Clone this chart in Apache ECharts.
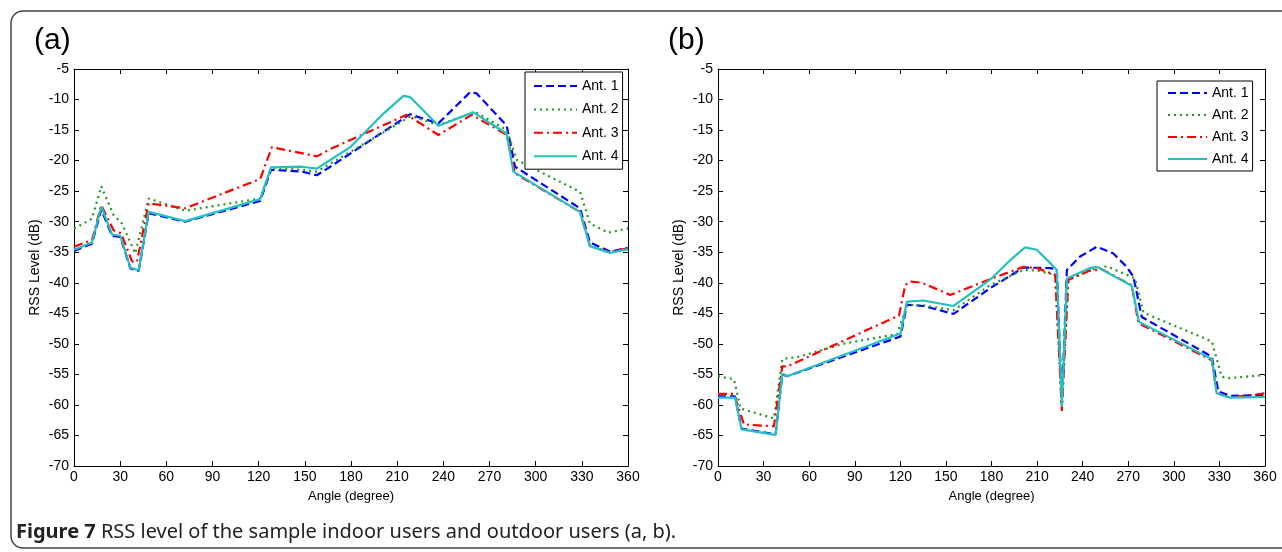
<!DOCTYPE html>
<html>
<head>
<meta charset="utf-8">
<script src="https://cdn.jsdelivr.net/npm/echarts@6.0.0/dist/echarts.min.js"></script>
<style>
html, body { margin: 0; padding: 0; background: #fff; }
#chart { width: 1282px; height: 552px; }
</style>
</head>
<body>
<div id="chart"></div>
<script>
// series names
const antNames = ['Ant. 1', 'Ant. 2', 'Ant. 3', 'Ant. 4'];

// (a) indoor users: [angle (deg), RSS (dB)]
const indoorAnt1 = [[0,-34.8],[11.7,-33.6],[17.7,-28.0],[24.7,-32.3],[30.1,-32.5],[36.6,-37.6],[42.0,-38.1],[48.5,-28.6],[72.3,-30.0],[121.0,-26.6],[128.0,-21.5],[148.1,-21.8],[157.8,-22.4],[166.5,-21.0],[218.4,-12.4],[221.7,-12.7],[236.8,-13.9],[257.4,-8.8],[261.7,-9.0],[281.2,-14.3],[286.6,-21.0],[328.8,-27.8],[335.3,-33.4],[348.3,-34.9],[360,-34.3]];
const indoorAnt2 = [[0,-31.1],[6.2,-30.3],[11.7,-29.5],[17.7,-24.2],[25.7,-28.9],[31.2,-30.3],[39.8,-35.2],[48.5,-26.2],[72.3,-28.2],[121.0,-26.2],[128.0,-21.2],[148.1,-21.5],[157.8,-21.8],[218.4,-12.8],[221.7,-12.9],[236.8,-14.2],[260.6,-12.0],[281.2,-15.0],[287.7,-19.9],[328.8,-25.1],[335.3,-30.3],[347.2,-31.8],[360,-31.1]];
const indoorAnt3 = [[0,-34.1],[11.7,-33.0],[17.7,-27.3],[25.7,-31.4],[30.6,-31.9],[37.7,-36.5],[40.9,-36.6],[48.5,-27.0],[72.3,-27.8],[121.0,-23.0],[128.6,-17.8],[157.8,-19.3],[166.5,-18.1],[216.3,-12.5],[236.8,-15.8],[258.5,-12.5],[281.2,-15.8],[286.6,-22.1],[328.8,-28.4],[335.3,-34.0],[348.3,-35.0],[360,-34.3]];
const indoorAnt4 = [[0,-34.6],[11.7,-33.4],[17.7,-27.5],[24.7,-32.1],[30.1,-32.3],[36.6,-37.5],[42.0,-38.0],[48.5,-28.4],[72.3,-29.9],[121.0,-26.3],[128.0,-21.1],[148.1,-21.0],[157.8,-21.3],[166.5,-19.9],[179.5,-17.8],[201.1,-12.3],[214.1,-9.4],[218.4,-9.6],[236.8,-14.3],[259.5,-12.1],[281.2,-15.6],[285.5,-21.8],[328.8,-28.4],[335.3,-34.0],[348.3,-35.1],[360,-34.5]];

// (b) outdoor users
const outdoorAnt1 = [[0,-58.6],[11.2,-58.6],[15.5,-63.9],[37.9,-64.8],[42.3,-55.0],[45.6,-55.3],[120.1,-48.8],[124.3,-43.6],[135.2,-43.8],[155.0,-45.1],[179.1,-40.9],[201.0,-37.5],[218.6,-37.6],[223.0,-37.8],[226.3,-60.0],[229.6,-37.9],[238.3,-35.7],[249.3,-34.1],[260.2,-35.2],[269.0,-37.4],[273.4,-39.0],[278.9,-45.6],[325.0,-52.1],[329.3,-57.8],[337.0,-58.5],[360,-58.4]];
const outdoorAnt2 = [[0,-55.3],[10.5,-55.8],[14.9,-60.6],[36.8,-62.2],[42.3,-52.5],[53.3,-52.1],[84.0,-49.9],[118.0,-48.4],[124.3,-43.6],[135.2,-43.7],[155.0,-44.5],[179.1,-40.4],[201.0,-37.9],[209.8,-38.0],[221.9,-38.7],[226.3,-60.0],[230.6,-39.5],[244.9,-37.9],[255.9,-37.3],[274.5,-39.3],[280.0,-44.9],[325.0,-49.6],[331.5,-55.4],[337.0,-55.6],[360,-55.1]];
const outdoorAnt3 = [[0,-58.2],[10.5,-58.2],[17.1,-63.2],[36.8,-63.5],[42.3,-53.7],[45.6,-53.7],[113.3,-46.0],[119.1,-45.4],[123.2,-40.4],[126.5,-39.8],[134.2,-40.0],[152.8,-42.0],[179.1,-39.4],[201.0,-37.4],[209.8,-37.6],[221.9,-38.7],[226.3,-61.0],[230.6,-39.5],[244.9,-38.0],[252.6,-37.8],[272.3,-40.4],[276.7,-46.6],[325.0,-52.7],[328.2,-58.0],[337.0,-58.8],[360,-58.1]];
const outdoorAnt4 = [[0,-58.8],[11.2,-58.8],[15.5,-64.0],[37.9,-64.9],[42.3,-54.9],[45.6,-55.3],[120.1,-48.3],[121.0,-48.4],[124.3,-43.1],[135.2,-42.9],[155.0,-43.8],[179.1,-39.5],[192.3,-36.3],[202.1,-34.2],[209.8,-34.6],[217.5,-36.5],[223.0,-37.9],[226.3,-60.3],[229.6,-39.3],[235.0,-38.7],[244.9,-37.6],[249.3,-37.4],[272.3,-40.5],[277.1,-46.4],[325.0,-52.5],[328.2,-58.1],[337.0,-58.8],[360,-58.7]];

const font = '"Liberation Sans", Arial, sans-serif';

// line looks per antenna
const antStyle = [
  { color: '#0000ff', width: 2.2, type: [8, 4] },
  { color: '#1f9a1f', width: 2.2, type: [2, 4] },
  { color: '#ff0000', width: 2.2, type: [9, 4, 2, 4] },
  { color: '#22c0c0', width: 2.2, type: 'solid' }
];

var chart = echarts.init(document.getElementById('chart'));

function mkSeries(name, data, axisIdx, k) {
  return {
    name: name,
    type: 'line',
    data: data,
    xAxisIndex: axisIdx,
    yAxisIndex: axisIdx,
    symbol: 'none',
    showSymbol: false,
    itemStyle: { color: antStyle[k].color },
    lineStyle: antStyle[k],
    z: 2 + k
  };
}

function xAx(grid, pos) {
  return {
    gridIndex: grid, type: 'value', position: pos,
    min: 0, max: 360, interval: 30,
    name: pos === 'bottom' ? 'Angle (degree)' : '',
    nameLocation: 'middle', nameGap: 24,
    nameTextStyle: { fontSize: 13, fontFamily: font, color: '#000' },
    axisLine: { show: true, onZero: false, lineStyle: { color: '#000', width: 1 } },
    axisTick: { show: true, inside: true, length: 5, lineStyle: { color: '#000' } },
    axisLabel: { show: pos === 'bottom', fontSize: 14, fontFamily: font, color: '#000', margin: 4 },
    splitLine: { show: false }
  };
}

function yAx(grid, pos) {
  return {
    gridIndex: grid, type: 'value', position: pos,
    min: -70, max: -5, interval: 5,
    name: pos === 'left' ? 'RSS Level (dB)' : '',
    nameLocation: 'middle', nameGap: 32,
    nameTextStyle: { fontSize: 14, fontFamily: font, color: '#000' },
    axisLine: { show: true, onZero: false, lineStyle: { color: '#000', width: 1 } },
    axisTick: { show: true, inside: true, length: 5, lineStyle: { color: '#000' } },
    axisLabel: { show: pos === 'left', fontSize: 14, fontFamily: font, color: '#000', margin: 5 },
    splitLine: { show: false }
  };
}

function legendAt(left, top, pad, w, gap) {
  return {
    data: antNames,
    orient: 'vertical',
    left: left, top: top,
    padding: pad,
    itemWidth: w, itemHeight: 14, itemGap: gap,
    borderColor: '#000', borderWidth: 1, borderRadius: 0,
    backgroundColor: '#fff',
    itemStyle: { opacity: 0 },
    textStyle: { fontSize: 14, fontFamily: font, color: '#000' }
  };
}

var option = {
  animation: false,
  backgroundColor: '#fff',
  grid: [
    { left: 74, top: 69, width: 554, height: 397 },
    { left: 718, top: 69, width: 547, height: 397 }
  ],
  xAxis: [xAx(0, 'bottom'), xAx(0, 'top'), xAx(1, 'bottom'), xAx(1, 'top')],
  yAxis: [yAx(0, 'left'), yAx(0, 'right'), yAx(1, 'left'), yAx(1, 'right')],
  legend: [
    legendAt(525, 72, [7, 4, 6, 8], 43, 9.4),
    legendAt(1157, 81, [5, 4, 5, 10], 39, 8)
  ],
  graphic: [
    { type: 'rect', shape: { x: 11, y: 11, width: 1300, height: 537, r: 12 },
      style: { fill: 'none', stroke: '#444', lineWidth: 1.5 }, z: 0 },
    { type: 'text', style: { x: 34, y: 41, text: '(a)', font: '30px ' + font, fill: '#000', textVerticalAlign: 'middle' } },
    { type: 'text', style: { x: 668, y: 41, text: '(b)', font: '30px ' + font, fill: '#000', textVerticalAlign: 'middle' } },
    { type: 'text', style: {
        x: 16, y: 532, textVerticalAlign: 'middle',
        text: '{b|Figure 7} RSS level of the sample indoor users and outdoor users (a, b).',
        font: '20px "Noto Sans", sans-serif', fill: '#222',
        rich: { b: { fontWeight: 'bold', fontSize: 20, fontFamily: '"Noto Sans", sans-serif', fill: '#222' } }
      } }
  ],
  series: [
    mkSeries(antNames[0], indoorAnt1, 0, 0),
    mkSeries(antNames[1], indoorAnt2, 0, 1),
    mkSeries(antNames[2], indoorAnt3, 0, 2),
    mkSeries(antNames[3], indoorAnt4, 0, 3),
    mkSeries(antNames[0], outdoorAnt1, 2, 0),
    mkSeries(antNames[1], outdoorAnt2, 2, 1),
    mkSeries(antNames[2], outdoorAnt3, 2, 2),
    mkSeries(antNames[3], outdoorAnt4, 2, 3)
  ]
};

chart.setOption(option);
</script>
</body>
</html>
